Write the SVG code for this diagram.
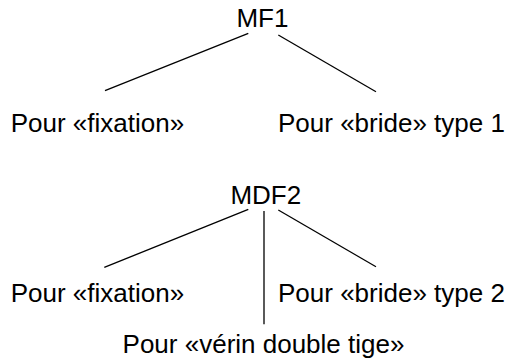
<svg xmlns="http://www.w3.org/2000/svg" width="507" height="363" viewBox="0 0 507 363">
<style>
text{font-family:"Liberation Sans",Arial,sans-serif;font-size:26px;fill:#000}
.c line{stroke:#000;stroke-width:1.3}
</style>
<rect width="507" height="363" fill="#fff"/>
<g class="c" id="connectors">
<line x1="248.3" y1="33.3" x2="105" y2="90.7"/>
<line x1="278.3" y1="35" x2="376" y2="91.7"/>
<line x1="248.3" y1="209.3" x2="104.3" y2="267.3"/>
<line x1="264" y1="211" x2="264" y2="324.3"/>
<line x1="278.3" y1="210" x2="376" y2="266.7"/>
</g>
<g id="mf1"><text x="262.4" y="27" text-anchor="middle">MF1</text></g>
<g id="mf1-fixation"><text x="10.7" y="131.5">Pour «fixation»</text></g>
<g id="mf1-bride"><text x="278" y="131.5">Pour «bride» type 1</text></g>
<g id="mdf2"><text x="265.8" y="204" text-anchor="middle">MDF2</text></g>
<g id="mdf2-fixation"><text x="10.7" y="301.5">Pour «fixation»</text></g>
<g id="mdf2-bride"><text x="278" y="301.5">Pour «bride» type 2</text></g>
<g id="mdf2-verin"><text x="263.5" y="353" text-anchor="middle">Pour «vérin double tige»</text></g>
</svg>
